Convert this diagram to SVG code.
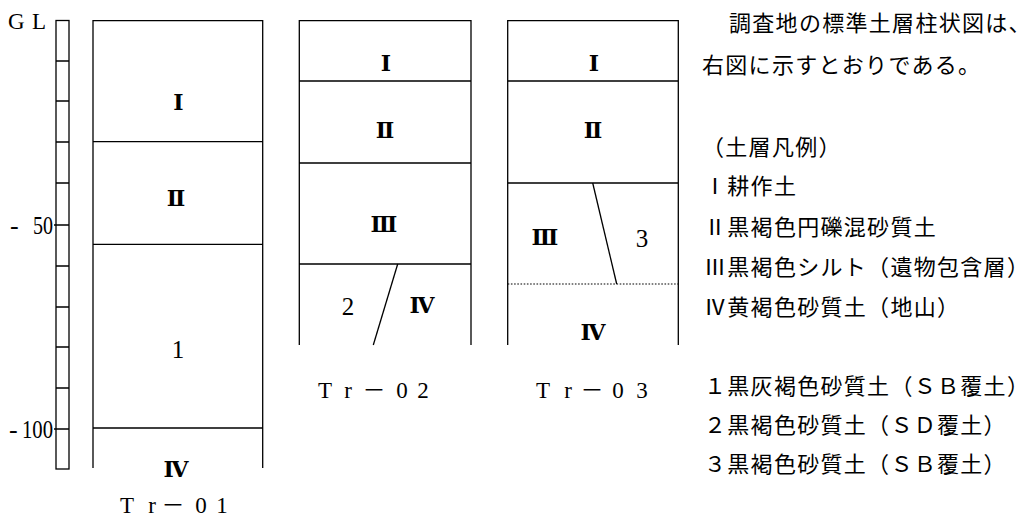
<svg xmlns="http://www.w3.org/2000/svg" width="1033" height="520" viewBox="0 0 1033 520">
<style>
.ln{stroke:#000;stroke-width:1.3;fill:none}
.rn{font-family:"Liberation Serif","DejaVu Serif","Noto Sans CJK JP",serif;font-size:22px;font-weight:bold;fill:#000;text-anchor:middle}
.num{font-family:"Liberation Serif","DejaVu Serif",serif;font-size:25px;fill:#000;text-anchor:middle}
.tr{font-family:"Liberation Serif","Noto Sans CJK JP",serif;font-size:23px;fill:#000;text-anchor:middle}
.sc{font-family:"Liberation Serif","DejaVu Serif",serif;font-size:23px;fill:#000}
.sn{font-size:26px}
.jp{font-family:"Noto Sans CJK JP","Noto Sans CJK SC",sans-serif;font-size:22px;letter-spacing:1.3px;fill:#000}
</style>
<rect width="1033" height="520" fill="#fff"/>
<g id="scale">
<rect class="ln" x="56" y="20.5" width="13" height="448.5"/>
<path class="ln" d="M56 61H69M56 101H69M56 142H69M56 183H69M54 225H69M56 266H69M56 307H69M56 347H69M56 388H69M54 429H69"/>
<text class="sc" y="29"><tspan x="8">G</tspan><tspan x="32">L</tspan></text>
<text class="sc sn" y="234"><tspan x="10">-</tspan><tspan x="33" textLength="20" lengthAdjust="spacingAndGlyphs">50</tspan></text>
<text class="sc sn" y="438"><tspan x="9">-</tspan><tspan x="22" textLength="31" lengthAdjust="spacingAndGlyphs">100</tspan></text>
</g>
<g id="tr01">
<path class="ln" d="M93 468V20.7H262.7V468M93 141.7H262.7M93 244.3H262.7M93 428H262.7"/>
<text class="rn" x="178.5" y="110">Ⅰ</text>
<text class="rn" x="176" y="206">Ⅱ</text>
<text class="num" x="178" y="358">1</text>
<text class="rn" x="176" y="477">Ⅳ</text>
<text class="tr" x="127 152 173 201 222" y="513">Tr－01</text>
</g>
<g id="tr02">
<path class="ln" d="M299.3 345V20.7H471V345M299.3 81H471M299.3 163H471M299.3 264H471"/>
<text class="rn" x="386" y="71">Ⅰ</text>
<text class="rn" x="385" y="138">Ⅱ</text>
<text class="rn" x="384" y="232">Ⅲ</text>
<text class="num" x="348" y="315">2</text>
<text class="rn" x="422" y="313">Ⅳ</text>
<text class="tr" x="325 348 374 402 423" y="398">Tr－02</text>
</g>
<g id="tr03">
<path class="ln" d="M507.7 345V20.7H678.3V345M507.7 81H678.3M507.7 183H678.3"/>
<line x1="507.7" y1="284" x2="678.3" y2="284" stroke="#000" stroke-width="1.2" stroke-dasharray="1.6 1.6"/>
<text class="rn" x="594" y="71">Ⅰ</text>
<text class="rn" x="593" y="138">Ⅱ</text>
<text class="rn" x="545" y="245">Ⅲ</text>
<text class="num" x="642" y="247">3</text>
<text class="rn" x="593" y="340">Ⅳ</text>
<text class="tr" x="543 568 592 618 642" y="398">Tr－03</text>
</g>
<g id="connectors">
<line class="ln" x1="397.7" y1="264" x2="373.3" y2="345"/>
<line class="ln" x1="592.7" y1="183" x2="616.7" y2="284"/>
</g>
<g id="legend">
<text class="jp" x="729" y="31">調査地の標準土層柱状図は、</text>
<text class="jp" x="702" y="73">右図に示すとおりである。</text>
<text class="jp" x="702" y="155">（土層凡例）</text>
<text class="jp" x="704" y="194">Ⅰ耕作土</text>
<text class="jp" x="704" y="235">Ⅱ黒褐色円礫混砂質土</text>
<text class="jp" x="704" y="275">Ⅲ黒褐色シルト（遺物包含層）</text>
<text class="jp" x="704" y="315">Ⅳ黄褐色砂質土（地山）</text>
<text class="jp" x="704" y="394">１黒灰褐色砂質土（ＳＢ覆土）</text>
<text class="jp" x="704" y="433">２黒褐色砂質土（ＳＤ覆土）</text>
<text class="jp" x="704" y="472">３黒褐色砂質土（ＳＢ覆土）</text>
</g>
</svg>
